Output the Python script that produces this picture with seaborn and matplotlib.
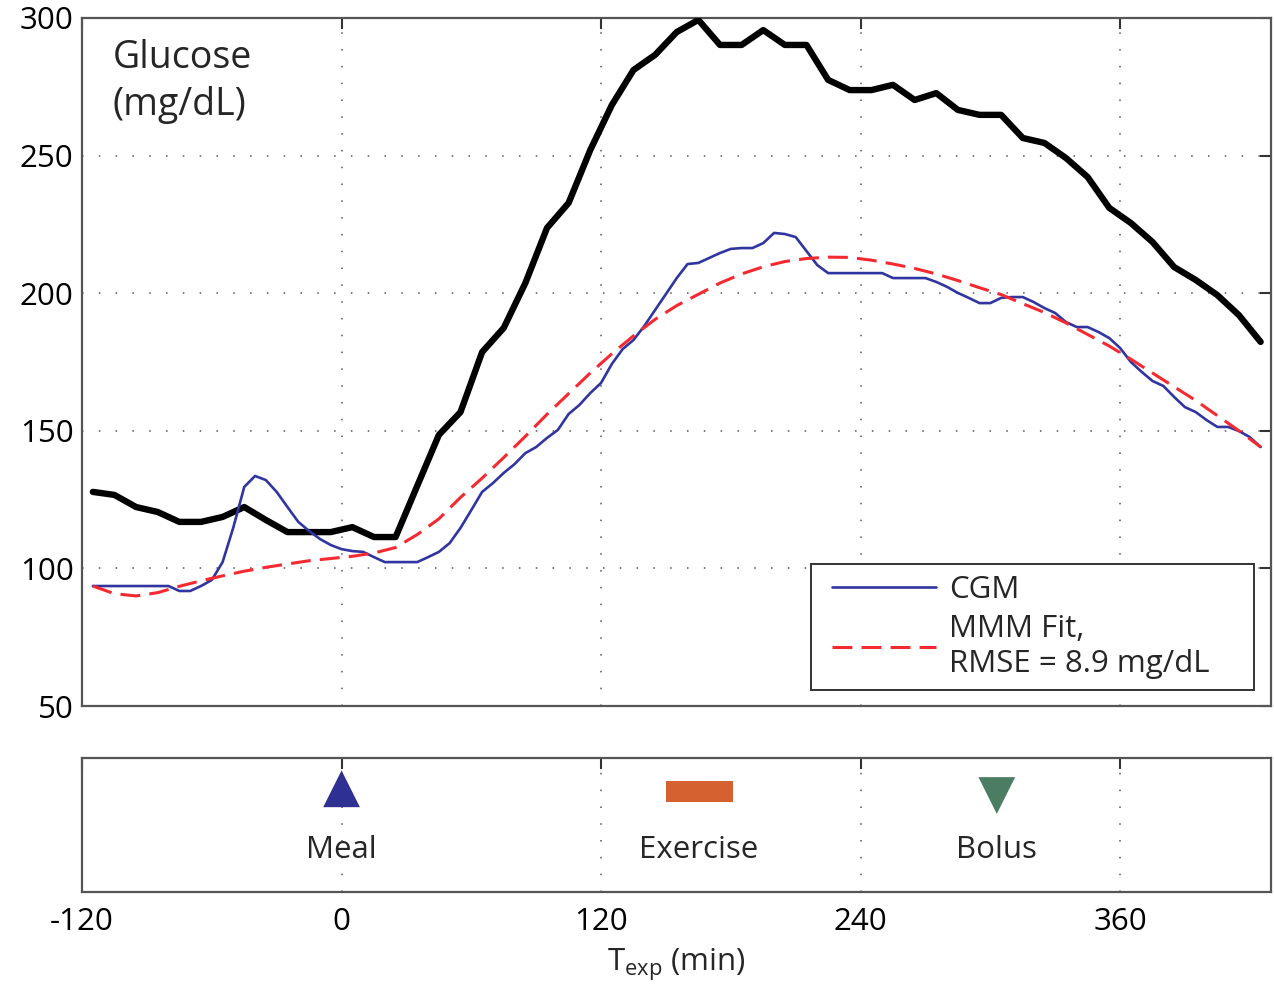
import numpy as np
import pandas as pd
import matplotlib
matplotlib.use("Agg")
import matplotlib.pyplot as plt
from matplotlib.lines import Line2D
from matplotlib.legend_handler import HandlerLine2D
import seaborn as sns

# ---------------- data ----------------
t10 = list(range(-115, 426, 10))
plasma = [127.8, 126.7, 122.3, 120.5, 116.9, 116.9, 118.7, 122.3, 117.6, 113.2,
          113.2, 113.2, 115.0, 111.4, 111.4, 130.0, 148.5, 156.8, 178.6, 187.4,
          203.7, 223.7, 232.8, 252.0, 268.4, 281.1, 286.6, 294.9, 299.3, 290.2,
          290.2, 295.6, 290.2, 290.2, 277.5, 273.8, 273.8, 275.7, 270.2, 272.7,
          266.6, 264.8, 264.8, 256.4, 254.6, 249.1, 242.2, 231.0, 225.5, 218.6,
          209.5, 204.8, 199.3, 192.0, 182.3]

mmm_fit = [93.6, 90.8, 90.0, 91.2, 93.5, 95.5, 97.3, 99.0, 100.4, 101.6,
           102.8, 103.6, 104.4, 105.6, 107.6, 112.3, 118.0, 125.8, 132.8, 140.3,
           148.0, 156.0, 163.5, 171.0, 178.0, 184.5, 190.5, 195.5, 199.6, 203.7,
           207.0, 209.6, 211.5, 212.6, 213.1, 213.0, 212.0, 210.6, 209.0, 207.0,
           204.6, 202.0, 199.5, 196.2, 193.0, 189.2, 185.0, 180.8, 176.0, 171.0,
           166.0, 161.0, 155.5, 150.0, 144.1]

t5 = list(range(-115, 426, 5))
cgm = [93.6, 93.6, 93.6, 93.6, 93.6, 93.6, 93.6, 93.6, 91.8, 91.8,
       93.6, 95.8, 102.3, 115.0, 129.6, 133.6, 132.1, 127.8, 122.3, 116.9,
       113.6, 110.7, 108.5, 107.0, 106.3, 106.0, 104.1, 102.3, 102.3, 102.3,
       102.3, 104.1, 106.0, 109.2, 114.7, 121.2, 127.8, 131.0, 134.7, 137.9,
       141.9, 144.1, 147.4, 150.3, 156.1, 159.4, 163.7, 167.4, 174.3, 179.7,
       183.0, 188.1, 193.9, 199.7, 205.5, 210.6, 211.0, 212.8, 214.6, 216.1,
       216.4, 216.4, 218.2, 221.9, 221.5, 220.4, 215.3, 210.2, 207.3, 207.3,
       207.3, 207.3, 207.3, 207.3, 205.5, 205.5, 205.5, 205.5, 204.1, 202.3,
       200.1, 198.3, 196.4, 196.4, 198.3, 198.6, 198.6, 196.8, 194.6, 192.8,
       189.5, 187.7, 187.7, 185.9, 183.7, 180.1, 175.0, 171.4, 168.1, 166.3,
       162.3, 158.6, 156.8, 153.9, 151.4, 151.4, 149.9, 147.7, 144.1]

event_names = ["Meal", "Exercise", "Bolus"]
event_times = [0, 165, 303]
exercise_span = [150, 181]

xticks = [-120, 0, 120, 240, 360]
yticks = [50, 100, 150, 200, 250, 300]

# ---------------- style ----------------
sns.set_theme(style="white")
plt.rcParams["font.family"] = ["Open Sans", "DejaVu Sans"]
plt.rcParams["mathtext.fontset"] = "custom"
plt.rcParams["mathtext.rm"] = "Open Sans"
plt.rcParams["axes.unicode_minus"] = False

FS = 22.5

fig = plt.figure(figsize=(12.74, 9.88), dpi=100)
ax = fig.add_axes([0.0644, 0.2854, 0.9336, 0.6964])
axb = fig.add_axes([0.0644, 0.0972, 0.9336, 0.1356])

grid_kw = dict(color="#555555", linestyle=(0, (1, 10)), linewidth=1.1)

df_p = pd.DataFrame({"t": t10, "g": plasma})
df_f = pd.DataFrame({"t": t10, "g": mmm_fit})
df_c = pd.DataFrame({"t": t5, "g": cgm})

sns.lineplot(data=df_p, x="t", y="g", ax=ax, color="black", linewidth=4.6,
             legend=False, zorder=3)
sns.lineplot(data=df_c, x="t", y="g", ax=ax, color="#3035A0", linewidth=1.9,
             label="CGM", zorder=4)
sns.lineplot(data=df_f, x="t", y="g", ax=ax, color="#F42A30", linewidth=2.2,
             linestyle=(0, (6.5, 3)), label="MMM Fit,\nRMSE = 8.9 mg/dL", zorder=5)

ax.set_xlim(-120, 430)
ax.set_ylim(50, 300)
ax.set_xticks(xticks)
ax.set_yticks(yticks)
ax.set_xticklabels([])
ax.set_xlabel("")
ax.set_ylabel("")
ax.grid(True, **grid_kw)
ax.tick_params(axis="both", direction="in", length=8, width=1.5, colors="#333333",
               top=True, right=True, labelsize=FS, labelcolor="black", pad=6)
for s in ax.spines.values():
    s.set_color("#555555")
    s.set_linewidth(1.6)

ax.text(0.026, 0.97, "Glucose\n(mg/dL)", transform=ax.transAxes, fontsize=27,
        va="top", ha="left", linespacing=1.32)

leg = ax.legend(loc="lower left", bbox_to_anchor=(0.6126, 0.0233, 0.3731, 0.1),
                mode="expand", borderaxespad=0, fontsize=FS, frameon=True,
                fancybox=False, edgecolor="#333333", framealpha=1,
                handlelength=3.65, handletextpad=0.42, borderpad=0.35,
                labelspacing=0.3,
                handler_map={Line2D: HandlerLine2D(xpad=0.33)})
leg.get_frame().set_linewidth(1.4)

# ---------------- event panel ----------------
axb.set_xlim(-120, 430)
axb.set_ylim(0, 1)
ev = pd.DataFrame({"t": event_times, "name": event_names})
sns.scatterplot(x=[event_times[0]], y=[0.77], ax=axb, marker="^", s=700,
                color="#2E3192", edgecolor="none", legend=False, zorder=3)
sns.scatterplot(x=[event_times[2]], y=[0.72], ax=axb, marker="v", s=700,
                color="#4B7D62", edgecolor="none", legend=False, zorder=3)
axb.axvspan(exercise_span[0], exercise_span[1], ymin=0.67, ymax=0.83,
            color="#D4612F", zorder=3, lw=0)
for name, t in zip(ev["name"], ev["t"]):
    axb.text(t, 0.31, name, ha="center", va="center", fontsize=FS)
axb.set_xticks(xticks)
axb.set_yticks([])
axb.set_xlabel("T$_\\mathregular{exp}$ (min)", fontsize=FS, labelpad=7)
axb.set_ylabel("")
axb.grid(True, axis="x", **grid_kw)
axb.tick_params(axis="x", direction="in", length=8, width=1.5, colors="#333333",
                top=True, labelsize=FS, labelcolor="black", pad=11)
for s in axb.spines.values():
    s.set_color("#555555")
    s.set_linewidth(1.6)

fig.savefig("out.png", dpi=100)
